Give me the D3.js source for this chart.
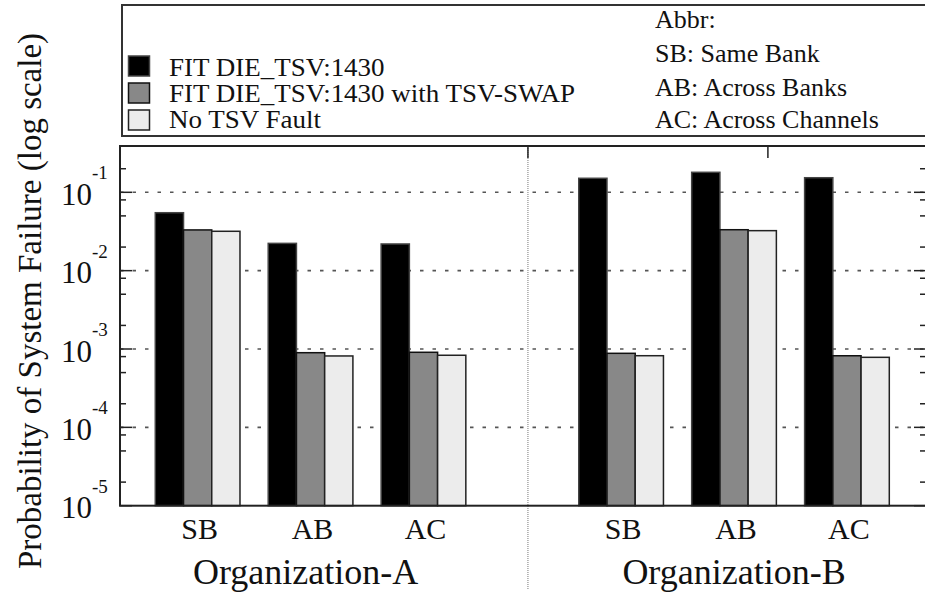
<!DOCTYPE html>
<html>
<head>
<meta charset="utf-8">
<script src="https://cdn.jsdelivr.net/npm/d3@7"></script>
<style>
  html, body { margin: 0; padding: 0; background: #fff; }
  svg { display: block; }
</style>
</head>
<body>
<svg id="chart" width="925" height="594"></svg>
<script>
// ---------------- data ----------------
const organizations = ["Organization-A", "Organization-B"];
const categories = ["SB", "AB", "AC"];
const seriesNames = ["FIT DIE_TSV:1430", "FIT DIE_TSV:1430 with TSV-SWAP", "No TSV Fault"];
// values ordered: Org-A SB, AB, AC, Org-B SB, AB, AC
const fitDieTsv     = [0.0549, 0.0223, 0.0219, 0.151, 0.180, 0.1535];
const fitDieTsvSwap = [0.0331, 8.97e-4, 9.08e-4, 8.81e-4, 0.0333, 8.2e-4];
const noTsvFault    = [0.0318, 8.15e-4, 8.32e-4, 8.21e-4, 0.0324, 7.83e-4];
const yTickExponents = [-5, -4, -3, -2, -1];
const minorMultipliers = [2, 5, 8];
const abbreviations = ["Abbr:", "SB: Same Bank", "AB: Across Banks", "AC: Across Channels"];
const yAxisTitle = "Probability of System Failure (log scale)";
const seriesColors = ["#000000", "#888888", "#ececec"];
const seriesStroke = ["#444444", "#111111", "#222222"];

// ---------------- layout ----------------
const FONT = "Liberation Serif, Tinos, Times New Roman, Times, Noto Serif, DejaVu Serif, serif";
const svg = d3.select("#chart");
const plot = { left: 120, right: 926, top: 146, bottom: 505.7 };
const slotsPerCluster = 4, slotsPerOrg = 15;
const x = d3.scaleLinear().domain([-1.25, 27.3]).range([plot.left, plot.right]);
const yMin = 1e-5, yMax = Math.pow(10, -0.409);
const y = d3.scaleLog().domain([yMin, yMax]).range([plot.bottom, plot.top]);

const allSeries = [fitDieTsv, fitDieTsvSwap, noTsvFault];
const bars = [];
organizations.forEach((org, oi) => {
  categories.forEach((cat, ci) => {
    allSeries.forEach((vals, si) => {
      bars.push({ slot: oi * slotsPerOrg + ci * slotsPerCluster + si, value: vals[oi * 3 + ci], si });
    });
  });
});

function txt(sel) {
  return sel.append("text").style("font-family", FONT).attr("fill", "#111");
}

// gridlines
const gridVals = yTickExponents.map(e => Math.pow(10, e)).filter(v => v > yMin);
svg.append("g").selectAll("line").data(gridVals).join("line")
  .attr("x1", plot.left).attr("x2", plot.right)
  .attr("y1", d => y(d)).attr("y2", d => y(d))
  .attr("stroke", "#555").attr("stroke-width", 1.6)
  .attr("stroke-dasharray", "3.5,9");

// separator between organizations
const sepSlot = 13.2;
svg.append("line")
  .attr("x1", x(sepSlot)).attr("x2", x(sepSlot))
  .attr("y1", plot.top).attr("y2", 590)
  .attr("stroke", "#777").attr("stroke-width", 1)
  .attr("stroke-dasharray", "1,1");

// bars
svg.append("g").selectAll("rect").data(bars).join("rect")
  .attr("x", d => x(d.slot))
  .attr("width", d => x(d.slot + 1) - x(d.slot))
  .attr("y", d => y(d.value))
  .attr("height", d => y(yMin) - y(d.value))
  .attr("fill", d => seriesColors[d.si])
  .attr("stroke", d => seriesStroke[d.si])
  .attr("stroke-width", 1.5);

// axis ticks (left and right)
const majors = yTickExponents.map(e => Math.pow(10, e));
const minors = [];
yTickExponents.forEach(e => minorMultipliers.forEach(m => {
  const v = m * Math.pow(10, e);
  if (v > yMin && v < yMax) minors.push(v);
}));
const tickG = svg.append("g").attr("stroke", "#222").attr("stroke-width", 1.5);
majors.forEach(v => {
  tickG.append("line").attr("x1", plot.left).attr("x2", plot.left + 12).attr("y1", y(v)).attr("y2", y(v));
  tickG.append("line").attr("x1", plot.right - 12).attr("x2", plot.right).attr("y1", y(v)).attr("y2", y(v));
});
minors.forEach(v => {
  tickG.append("line").attr("x1", plot.left).attr("x2", plot.left + 6).attr("y1", y(v)).attr("y2", y(v));
  tickG.append("line").attr("x1", plot.right - 6).attr("x2", plot.right).attr("y1", y(v)).attr("y2", y(v));
});
// top ticks
[sepSlot, 21.7].forEach(s => {
  tickG.append("line").attr("x1", x(s)).attr("x2", x(s)).attr("y1", plot.top).attr("y2", plot.top + 12);
});

// frame
svg.append("rect")
  .attr("x", plot.left).attr("y", plot.top)
  .attr("width", plot.right - plot.left).attr("height", plot.bottom - plot.top)
  .attr("fill", "none").attr("stroke", "#222").attr("stroke-width", 2);

// y tick labels 10^k
const lab = svg.append("g");
yTickExponents.forEach(e => {
  const yy = y(Math.pow(10, e));
  txt(lab).attr("x", 92).attr("y", yy + 12.5)
    .attr("text-anchor", "end").attr("font-size", 31).text("10");
  txt(lab).attr("x", 92).attr("y", yy - 13)
    .attr("text-anchor", "start").attr("font-size", 19).text(String(e));
});

// y axis title
txt(svg)
  .attr("transform", `translate(41,301) rotate(-90)`)
  .attr("text-anchor", "middle").attr("font-size", 33)
  .text(yAxisTitle);

// category labels
organizations.forEach((org, oi) => {
  categories.forEach((cat, ci) => {
    const c = oi * slotsPerOrg + ci * slotsPerCluster + 1.5;
    txt(svg).attr("x", x(c) + 2).attr("y", 539)
      .attr("text-anchor", "middle").attr("font-size", 30).text(cat);
  });
  const mid = oi * slotsPerOrg + 1 * slotsPerCluster + 1.5;
  txt(svg).attr("x", x(mid) - (oi === 0 ? 5 : 0)).attr("y", 584)
    .attr("text-anchor", "middle").attr("font-size", 36).text(org);
});

// legend box
svg.append("rect")
  .attr("x", 122).attr("y", 5).attr("width", 820).attr("height", 131)
  .attr("fill", "none").attr("stroke", "#333").attr("stroke-width", 2);

seriesNames.forEach((name, i) => {
  svg.append("rect")
    .attr("x", 128.5).attr("y", 56 + i * 27).attr("width", 21).attr("height", 20)
    .attr("fill", seriesColors[i]).attr("stroke", seriesStroke[i]).attr("stroke-width", 1.5);
  txt(svg).attr("transform", `translate(169,${76 + i * 25.8}) scale(1.08,1)`)
    .attr("font-size", 25).text(name);
});

abbreviations.forEach((t, i) => {
  txt(svg).attr("transform", `translate(655,${[28, 62, 96, 128][i]}) scale(1.04,1)`)
    .attr("font-size", 25).text(t);
});
</script>
</body>
</html>
